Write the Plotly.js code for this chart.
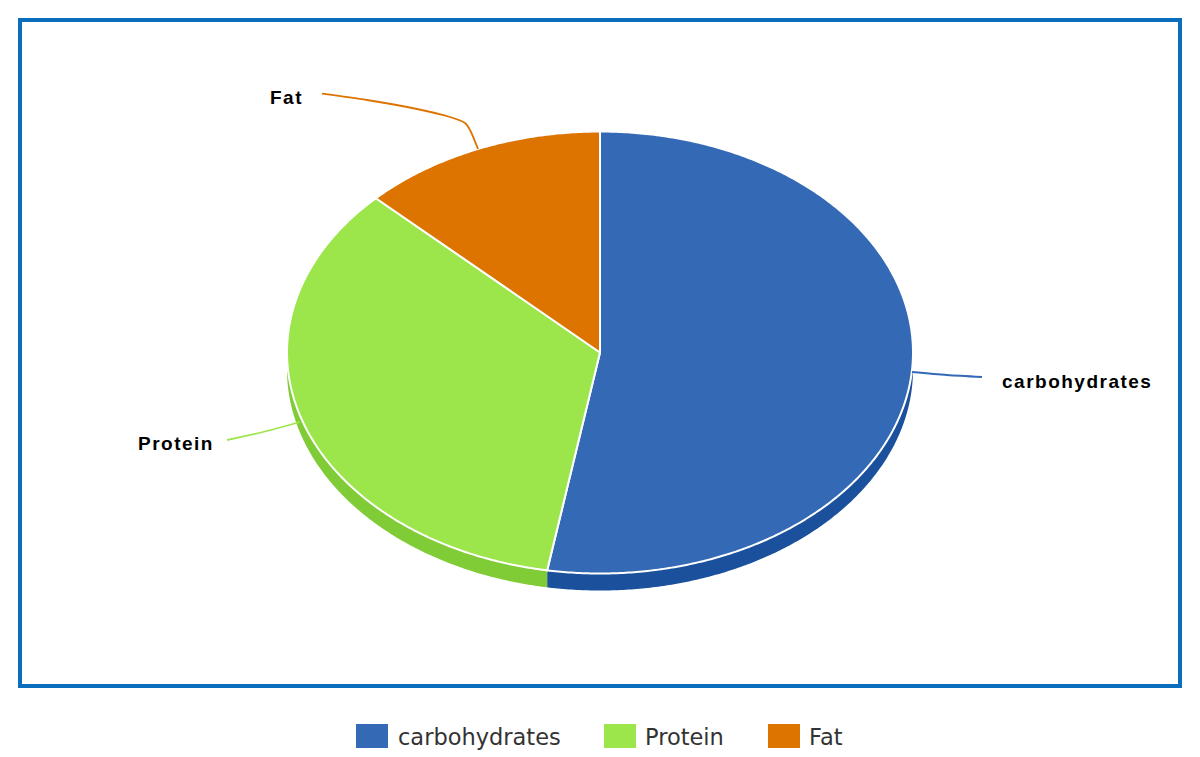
<!DOCTYPE html>
<html>
<head>
<meta charset="utf-8">
<script src="https://cdn.plot.ly/plotly-3.0.1.min.js"></script>
<style>
html,body{margin:0;padding:0;background:#fff;overflow:hidden}
#chart{width:1200px;height:757px}
g.annotation text[style*="Liberation"]{letter-spacing:1.5px}
</style>
</head>
<body>
<div id="chart"></div>
<script>
// Data
const categories = ["carbohydrates", "Protein", "Fat"];
const values = [52.7, 34.6, 12.7];
const topColors = ["#3469b5", "#9ce64c", "#de7400"];
const sideColors = ["#1b509c", "#80cc36", "#b85f00"];
const legendTextColor = "#333333";

// Geometry of the tilted pie, in axis units
const cx = 600, cy = 352.5, rx = 313, ry = 221, depth = 17;

// Leader lines, label anchors and legend layout
const leadersX = [[912, 947, 982], [300, 263, 227], [478, 470, 465, 450, 417, 367, 322]];
const leadersY = [[372, 375, 377], [422, 432, 440], [149, 130, 123, 117, 109, 100, 93.7]];
const labelX = [1000, 136, 268];
const labelY = [381, 443, 97];
const swatchX = [356, 604, 768];
const legendTextX = [396, 643, 807];
const legendY = 736, swatchW = 32, swatchH = 24;

function pt(deg, off) {
  const a = deg * Math.PI / 180;
  return [cx + rx * Math.sin(a), cy - ry * Math.cos(a) + off];
}
function arc(from, to, off) {
  const out = [];
  const n = Math.max(2, Math.ceil(Math.abs(to - from) * 2));
  for (let i = 0; i <= n; i++) out.push(pt(from + (to - from) * i / n, off));
  return out;
}

const total = values.reduce((a, b) => a + b, 0);
const sideTraces = [], topTraces = [], leaderTraces = [];
let start = 0;
values.forEach((v, i) => {
  const end = start + v / total * 360;
  const s = Math.max(start, 90), e = Math.min(end, 270);
  if (e > s) {
    const poly = arc(s, e, depth).concat(arc(e, s, 0));
    sideTraces.push({
      type: "scatter", mode: "lines", fill: "toself", fillcolor: sideColors[i],
      x: poly.map(p => p[0]), y: poly.map(p => p[1]),
      line: {width: 0, color: sideColors[i], simplify: false}, hoverinfo: "skip", showlegend: false
    });
  }
  const slice = [[cx, cy]].concat(arc(start, end, 0), [[cx, cy]]);
  topTraces.push({
    type: "scatter", mode: "lines", fill: "toself", fillcolor: topColors[i], name: categories[i],
    x: slice.map(p => p[0]), y: slice.map(p => p[1]),
    line: {width: 2, color: "#ffffff", simplify: false}, hoverinfo: "name", showlegend: false
  });
  leaderTraces.push({
    type: "scatter", mode: "lines", x: leadersX[i], y: leadersY[i],
    line: {width: 1.8, color: topColors[i], shape: "spline", smoothing: 0.8, simplify: false},
    hoverinfo: "skip", showlegend: false
  });
  start = end;
});

const annotations = [], shapes = [
  {type: "rect", xref: "x", yref: "y", x0: 20, x1: 1180, y0: 20, y1: 686,
   line: {color: "#0a6ebd", width: 4}, fillcolor: "rgba(0,0,0,0)", layer: "below"}
];
categories.forEach((c, i) => {
  annotations.push({
    x: labelX[i], y: labelY[i], xref: "x", yref: "y", text: "<b>" + c + "</b>",
    showarrow: false, xanchor: "left", yanchor: "middle", align: "left",
    font: {family: "Liberation Sans, Arial, sans-serif", size: 19, color: "#000000"},
    captureevents: false
  });
  annotations.push({
    x: legendTextX[i], y: legendY + 1, xref: "x", yref: "y", text: c,
    showarrow: false, xanchor: "left", yanchor: "middle", align: "left",
    font: {family: "DejaVu Sans, sans-serif", size: 22.5, color: legendTextColor}
  });
  shapes.push({
    type: "rect", xref: "x", yref: "y", x0: swatchX[i], x1: swatchX[i] + swatchW,
    y0: legendY - swatchH / 2, y1: legendY + swatchH / 2,
    line: {width: 0}, fillcolor: topColors[i]
  });
});

Plotly.newPlot("chart", sideTraces.concat(topTraces, leaderTraces), {
  width: 1200, height: 757, margin: {l: 0, r: 0, t: 0, b: 0},
  paper_bgcolor: "#ffffff", plot_bgcolor: "#ffffff", showlegend: false,
  xaxis: {range: [0, 1200], visible: false, fixedrange: true},
  yaxis: {range: [757, 0], visible: false, fixedrange: true},
  annotations: annotations, shapes: shapes
}, {displayModeBar: false, staticPlot: true});
</script>
</body>
</html>
